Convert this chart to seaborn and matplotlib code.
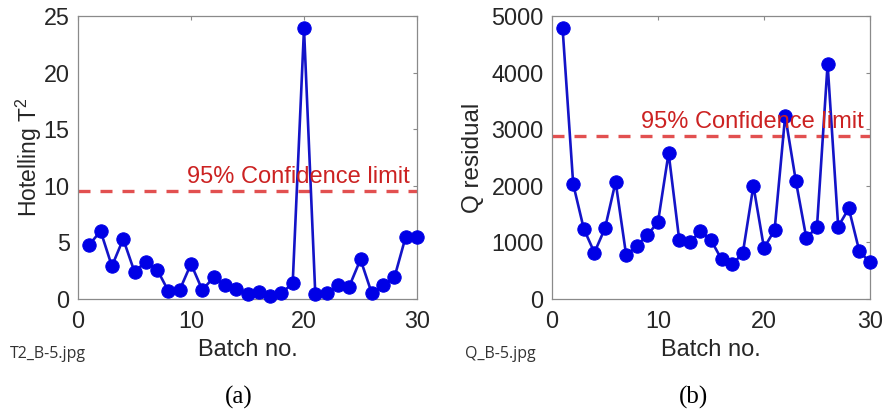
import matplotlib
matplotlib.use("Agg")
import matplotlib.pyplot as plt
import seaborn as sns
import pandas as pd

# Batch numbers and the two monitoring statistics per batch
batch = [1, 2, 3, 4, 5, 6, 7, 8, 9, 10, 11, 12, 13, 14, 15,
         16, 17, 18, 19, 20, 21, 22, 23, 24, 25, 26, 27, 28, 29, 30]
t2 = [4.8, 6.0, 2.9, 5.3, 2.4, 3.3, 2.6, 0.7, 0.8, 3.1, 0.8, 1.9, 1.2, 0.9, 0.4,
      0.6, 0.3, 0.5, 1.4, 23.9, 0.4, 0.5, 1.2, 1.1, 3.5, 0.5, 1.2, 1.9, 5.5, 5.5]
q_res = [4780, 2030, 1240, 820, 1250, 2070, 770, 940, 1130, 1360, 2580, 1050, 1000, 1200, 1040,
         700, 610, 810, 2000, 900, 1220, 3240, 2090, 1070, 1280, 4150, 1280, 1600, 840, 650]
t2_limit = 9.5
q_limit = 2880

limit_label = "95% Confidence limit"
x_ticks = [0, 10, 20, 30]
t2_ticks = [0, 5, 10, 15, 20, 25]
q_ticks = [0, 1000, 2000, 3000, 4000, 5000]
file_tags = ["T2_B-5.jpg", "Q_B-5.jpg"]
panel_tags = ["(a)", "(b)"]

sns.set_theme(style="white")
plt.rcParams["font.family"] = ["Liberation Sans", "DejaVu Sans"]
plt.rcParams["mathtext.fontset"] = "custom"
plt.rcParams["mathtext.rm"] = "Liberation Sans"
plt.rcParams["mathtext.it"] = "Liberation Sans"

df = pd.DataFrame({"batch": batch, "t2": t2, "q": q_res})

W, H = 884, 412
fig = plt.figure(figsize=(W / 100, H / 100), dpi=100)
fig.patch.set_facecolor("white")

ax1 = fig.add_axes([78 / W, 1 - 299 / H, (417 - 78) / W, (299 - 16) / H])
ax2 = fig.add_axes([552 / W, 1 - 299 / H, (870 - 552) / W, (299 - 16) / H])

line_col = "#1414c8"
dot_col = "#0000e6"
lim_col = "#e25050"
txt_red = "#cc2222"
spine_col = "#8a8a8a"
tick_txt = "#262626"

panels = [
    (ax1, "t2", t2_limit, t2_ticks, (0, 25), "Hotelling T$^{2}$", 16.5, (29.4, 10.25)),
    (ax2, "q", q_limit, q_ticks, (0, 5000), "Q residual", 17.5, (29.45, 3020)),
]

for ax, col, lim, yt, ylim, ylab, ylab_fs, txt_pos in panels:
    sns.lineplot(data=df, x="batch", y=col, ax=ax, color=line_col, linewidth=1.9,
                 marker="o", markersize=9.6, markerfacecolor=dot_col,
                 markeredgecolor=dot_col, zorder=3, clip_on=False)
    ax.axhline(lim, color=lim_col, linewidth=2.4, linestyle=(0, (3.6, 3.0)), zorder=2)
    ax.text(txt_pos[0], txt_pos[1], limit_label, color=txt_red, fontsize=17,
            ha="right", va="baseline", zorder=4)
    ax.set_xlim(0, 30)
    ax.set_ylim(*ylim)
    ax.set_xticks(x_ticks)
    ax.set_yticks(yt)
    ax.tick_params(direction="in", length=3, width=0.8, color=spine_col,
                   labelcolor=tick_txt, labelsize=16.8, top=True, right=True)
    ax.tick_params(axis="y", pad=6)
    ax.tick_params(axis="x", pad=8)
    for s in ax.spines.values():
        s.set_visible(True)
        s.set_color(spine_col)
        s.set_linewidth(0.9)
    ax.set_xlabel("Batch no.", fontsize=17, color=tick_txt, labelpad=4)
    ax.set_ylabel(ylab, fontsize=ylab_fs, color=tick_txt, labelpad=2)

ax1.yaxis.set_label_coords(-0.10, 0.5)
ax2.yaxis.set_label_coords(-0.215, 0.5)

fig.text(10 / W, 1 - 354 / H, file_tags[0], fontsize=11.5, color="#333333",
         family=["Open Sans", "DejaVu Sans"], ha="left", va="center")
fig.text(465 / W, 1 - 354 / H, file_tags[1], fontsize=11.5, color="#333333",
         family=["Open Sans", "DejaVu Sans"], ha="left", va="center")
fig.text(239 / W, 1 - 397 / H, panel_tags[0], fontsize=18, color="black",
         family=["Liberation Serif", "DejaVu Serif"], ha="center", va="center")
fig.text(693 / W, 1 - 397 / H, panel_tags[1], fontsize=18, color="black",
         family=["Liberation Serif", "DejaVu Serif"], ha="center", va="center")

fig.savefig("out.png", dpi=100, facecolor="white")
